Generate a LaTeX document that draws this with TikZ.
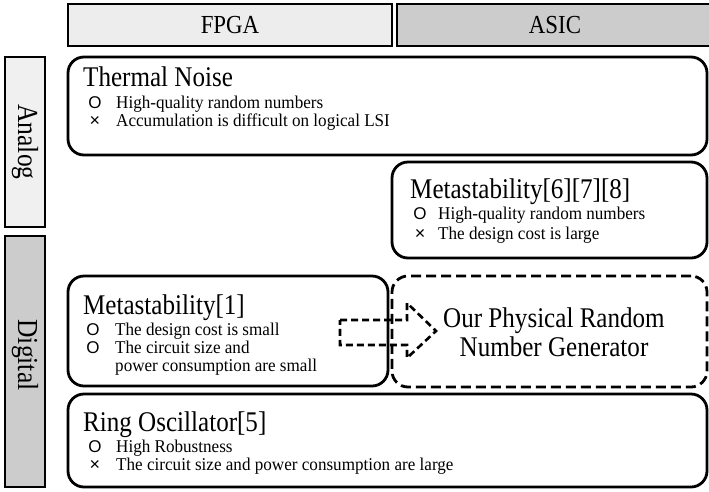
\documentclass[tikz,border=0pt]{standalone}
\usepackage{fontspec}
\setmainfont{Liberation Serif}
\newfontfamily\symfont{Liberation Sans}
\newfontfamily\ttlfont[FakeStretch=0.88]{Liberation Serif}
\newfontfamily\itmfont[FakeStretch=0.95]{Liberation Serif}
\begin{document}
\begin{tikzpicture}[x=1pt,y=-1pt,
  box/.style={draw, line width=2.8pt, rounded corners=16pt},
  dbox/.style={draw, line width=2.8pt, rounded corners=16pt, dash pattern=on 10pt off 5pt},
  hdr/.style={draw, line width=2.8pt, inner sep=0pt, font=\ttlfont\fontsize{26}{26}\selectfont},
  side/.style={rotate=-90, inner sep=0pt, font=\ttlfont\fontsize{29}{29}\selectfont},
  ttl/.style={anchor=base west, inner sep=0pt, font=\ttlfont\fontsize{28.5}{28.5}\selectfont},
  itm/.style={anchor=base west, inner sep=0pt, font=\itmfont\fontsize{18}{18}\selectfont},
  sym/.style={anchor=base, inner sep=0pt, font=\symfont\fontsize{17}{17}\selectfont},
  xsym/.style={anchor=base, inner sep=0pt, font=\symfont\fontsize{18}{18}\selectfont}]
\useasboundingbox (0,0) rectangle (709,491);
\fill[white] (0,0) rectangle (709,491);
% headers
\node (fpga) [hdr, fill=gray!14, minimum width=324pt, minimum height=42pt] at (230,25) {FPGA};
\node (asic) [hdr, fill=gray!40, minimum width=316pt, minimum height=42pt] at (555,25) {ASIC};
\node (analog) [hdr, fill=gray!12, minimum width=40pt, minimum height=170pt] at (25,142) {};
\node (analogt) [side] at (analog.center) {Analog};
\node (digital) [hdr, fill=gray!40, minimum width=40pt, minimum height=251pt] at (25,361.5) {};
\node (digitalt) [side] at (25,355) {Digital};
% boxes
\node (thermal) [box, minimum width=639pt, minimum height=98pt] at (387.5,106) {};
\node (meta678) [box, minimum width=315pt, minimum height=96pt] at (549.5,210) {};
\node (meta1) [box, minimum width=320pt, minimum height=110pt] at (228,331) {};
\node (prng) [dbox, minimum width=315pt, minimum height=111pt] at (549.5,331.5) {};
\node (ring) [box, minimum width=639pt, minimum height=93pt] at (387.5,440.5) {};
% thermal
\node (t0) [ttl] at (83,86) {Thermal Noise};
\node (t1s) [sym] at (95,108) {O};
\node (t1) [itm] at (116,108) {High-quality random numbers};
\node (t2s) [xsym] at (95,126) {×};
\node (t2) [itm] at (116,126) {Accumulation is difficult on logical LSI};
% meta678
\node (m0) [ttl] at (410,198) {Metastability[6][7][8]};
\node (m1s) [sym] at (420,219) {O};
\node (m1) [itm] at (438,219) {High-quality random numbers};
\node (m2s) [xsym] at (420,239) {×};
\node (m2) [itm] at (438,239) {The design cost is large};
% meta1
\node (n0) [ttl] at (83,314) {Metastability[1]};
\node (n1s) [sym] at (93,335) {O};
\node (n1) [itm] at (115,335) {The design cost is small};
\node (n2s) [sym] at (93,353) {O};
\node (n2) [itm] at (115,353) {The circuit size and};
\node (n3) [itm] at (115,371) {power consumption are small};
% prng
\node (p0) [inner sep=0pt, align=center, font=\ttlfont\fontsize{28.5}{29}\selectfont] at (554,332) {Our Physical Random\\Number Generator};
% ring
\node (r0) [ttl] at (83,431) {Ring Oscillator[5]};
\node (r1s) [sym] at (95,452) {O};
\node (r1) [itm] at (116,452) {High Robustness};
\node (r2s) [xsym] at (95,470) {×};
\node (r2) [itm] at (116,470) {The circuit size and power consumption are large};
% dashed block arrow
\coordinate (a1) at (340,320);
\coordinate (a2) at (407,320);
\coordinate (a3) at (407,303);
\coordinate (a4) at (436,331);
\coordinate (a5) at (407,358);
\coordinate (a6) at (407,345);
\coordinate (a7) at (340,345);
\draw[line width=2.6pt, dash pattern=on 7pt off 4pt] (a1) -- (a2) -- (a3) -- (a4) -- (a5) -- (a6) -- (a7) -- cycle;
\end{tikzpicture}
\end{document}
